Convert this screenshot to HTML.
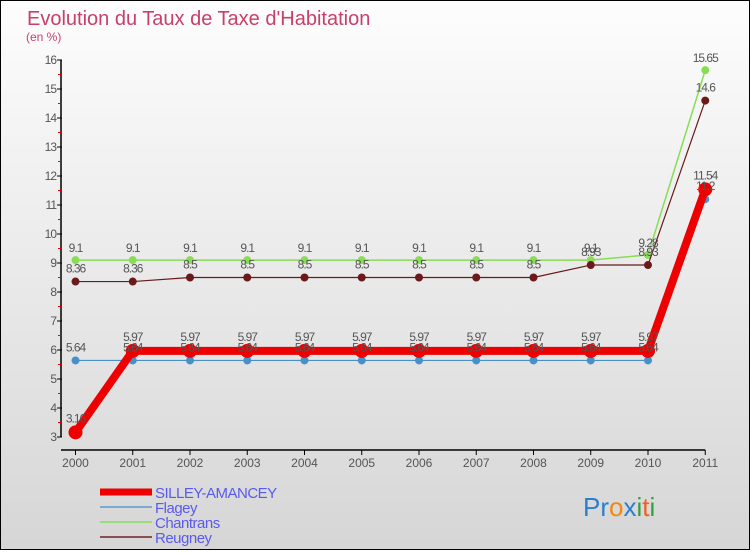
<!DOCTYPE html>
<html><head><meta charset="utf-8"><style>
html,body{margin:0;padding:0}
body{width:750px;height:550px;overflow:hidden;font-family:"Liberation Sans",sans-serif}
#wrap{position:relative;width:748px;height:548px;border:1px solid #000;background:linear-gradient(#fdfdfd,#d6d6d6)}
</style></head><body>
<div id="wrap">
<svg id="chart" width="748" height="548" font-family="Liberation Sans, sans-serif"></svg>
</div>
<script>
const years=["2000","2001","2002","2003","2004","2005","2006","2007","2008","2009","2010","2011"];
const silley=[3.16,5.97,5.97,5.97,5.97,5.97,5.97,5.97,5.97,5.97,5.97,11.54];
const flagey=[5.64,5.64,5.64,5.64,5.64,5.64,5.64,5.64,5.64,5.64,5.64,11.2];
const chantrans=[9.1,9.1,9.1,9.1,9.1,9.1,9.1,9.1,9.1,9.1,9.28,15.65];
const reugney=[8.36,8.36,8.5,8.5,8.5,8.5,8.5,8.5,8.5,8.93,8.93,14.6];
const yTicks=[3,4,5,6,7,8,9,10,11,12,13,14,15,16];
const ns="http://www.w3.org/2000/svg";
const svg=document.getElementById('chart');
const X=i=>74.5+i*57.25;
const Y=v=>436-(v-3)*29;
function mk(t,a,p){const e=document.createElementNS(ns,t);for(const k in a)e.setAttribute(k,a[k]);(p||svg).appendChild(e);return e;}
let t=mk('text',{x:26,y:24,'font-size':20,fill:'#c8406a'});t.textContent="Evolution du Taux de Taxe d'Habitation";


t=mk('text',{x:25,y:40,'font-size':12,fill:'#c8406a'});t.textContent="(en %)";


let a=mk('line',{x1:60,y1:Y(16),x2:60,y2:Y(3),stroke:'#000','stroke-width':1.5});


a=mk('line',{x1:60,y1:449,x2:X(11),y2:449,stroke:'#000','stroke-width':1.5});


yTicks.forEach((v,i)=>{
 mk('line',{x1:56,y1:Y(v),x2:61,y2:Y(v),stroke:'#000'});
 if(i<yTicks.length-1)mk('line',{x1:57,y1:Y(v+0.5),x2:60,y2:Y(v+0.5),stroke:'#e00'});
 const l=mk('text',{x:55,y:Y(v)+4,'font-size':12,fill:'#555','text-anchor':'end','letter-spacing':'-1'});l.textContent=v;
 
 
});
years.forEach((y,i)=>{
 mk('line',{x1:X(i),y1:449,x2:X(i),y2:454,stroke:'#000'});
 const l=mk('text',{x:X(i),y:466,'font-size':12,fill:'#555','text-anchor':'middle'});l.textContent=y;
 
 
});
function series(data,color,w,r,name){
 const g=mk('g',{});
 
 
 const pl=mk('polyline',{points:data.map((v,i)=>X(i)+','+Y(v)).join(' '),fill:'none',stroke:color,'stroke-width':w,'stroke-linejoin':'round'},g);
 
 
 data.forEach((v,i)=>{
  const c=mk('circle',{cx:X(i),cy:Y(v),r:r,fill:color},g);
  
  
 });
}
function labels(data,dy){
 data.forEach((v,i)=>{
  const l=mk('text',{x:X(i),y:Y(v)+dy,'font-size':12,fill:'#555','text-anchor':'middle','letter-spacing':'-1'});l.textContent=v;
  
  
 });
}
series(chantrans,'#88dd55',1.5,4,'chantrans');
series(reugney,'#6a1a1a',1.2,4,'reugney');
series(flagey,'#4a90c8',1.2,4,'flagey');
series(silley,'#ee0000',8,7,'silley-amancey');
labels(chantrans,-8);labels(reugney,-9);labels(flagey,-9);labels(silley,-10);
const leg=[["SILLEY-AMANCEY","#ee0000",7],["Flagey","#7aaad0",2],["Chantrans","#99dd77",2],["Reugney","#8a5050",2]];
leg.forEach((l,i)=>{
 const y=491+i*15;
 const g=mk('g',{});
 
 
 mk('line',{x1:99,y1:y,x2:151,y2:y,stroke:l[1],'stroke-width':l[2]},g);
 const tx=mk('text',{x:154,y:y+6,'font-size':15,fill:'#5a5aee','letter-spacing':'-0.5'},g);tx.textContent=l[0];
});
const lg=mk('text',{x:582,y:515,'font-size':26});


[["P","#2a7fd0"],["r","#2a7fd0"],["o","#f08a10"],["x","#2a7fd0"],["i","#30a040"],["t","#f06020"],["i","#30a040"]].forEach(c=>{const s=mk('tspan',{fill:c[1]},lg);s.textContent=c[0];});
</script>
</body></html>
